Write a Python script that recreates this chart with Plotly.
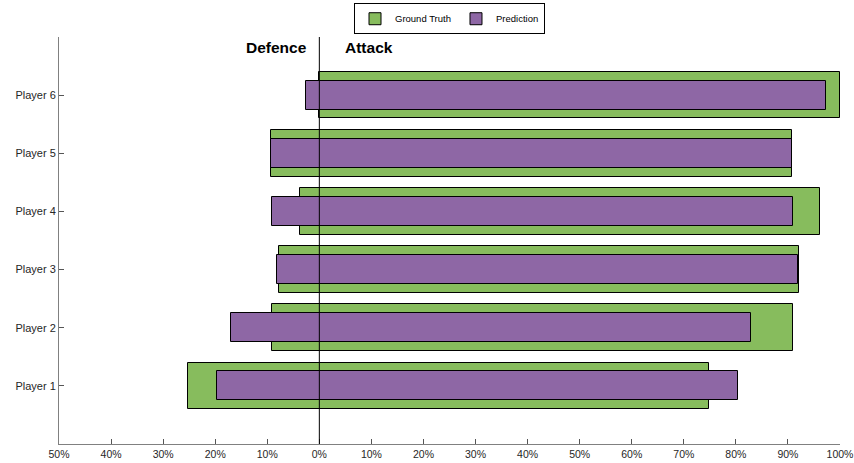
import plotly.graph_objects as go

players = ["Player 1", "Player 2", "Player 3", "Player 4", "Player 5", "Player 6"]
gt_defence = [25.2, 9.0, 7.7, 3.8, 9.3, 0.0]
gt_attack = [74.8, 91.0, 92.2, 96.2, 90.7, 100.0]
pred_defence = [19.6, 17.0, 8.1, 9.1, 9.2, 2.6]
pred_attack = [80.5, 83.0, 92.0, 90.9, 90.8, 97.4]
tick_vals = list(range(-50, 101, 10))
tick_text = [f"{abs(v)}%" for v in tick_vals]

ypos = list(range(1, len(players) + 1))

fig = go.Figure()
fig.add_trace(go.Bar(
    y=ypos, x=[d + a for d, a in zip(gt_defence, gt_attack)],
    base=[-d for d in gt_defence], orientation="h", width=0.8,
    name="Ground Truth", marker=dict(color="#87bc5d", line=dict(color="black", width=1)),
))
fig.add_trace(go.Bar(
    y=ypos, x=[d + a for d, a in zip(pred_defence, pred_attack)],
    base=[-d for d in pred_defence], orientation="h", width=0.5,
    name="Prediction", marker=dict(color="#8e67a5", line=dict(color="black", width=1)),
))

fig.add_shape(type="line", x0=0, x1=0, y0=0, y1=1, xref="x", yref="paper",
              line=dict(color="black", width=1), layer="above")

fig.add_annotation(x=0, y=0.973, xref="x", yref="paper", text="<b>Defence</b>",
                   showarrow=False, xanchor="right", yanchor="middle", xshift=-10,
                   font=dict(family="Liberation Sans", size=15.5, color="black"))
fig.add_annotation(x=0, y=0.973, xref="x", yref="paper", text="<b>Attack</b>",
                   showarrow=False, xanchor="left", yanchor="middle", xshift=24,
                   font=dict(family="Liberation Sans", size=15.5, color="black"))

fig.update_layout(
    width=854, height=463, barmode="overlay",
    margin=dict(l=59, r=14, t=37, b=19, autoexpand=False),
    plot_bgcolor="white", paper_bgcolor="white",
    font=dict(family="Liberation Sans", size=11, color="#262626"),
    legend=dict(orientation="h", x=0.5, xanchor="center", y=1.083, yanchor="top",
                bordercolor="black", borderwidth=1, font=dict(size=9.5, color="black"),
                itemwidth=30, tracegroupgap=0),
    xaxis=dict(range=[-50, 100], tickvals=tick_vals, ticktext=tick_text,
               tickfont=dict(size=10.5),
               showline=True, linecolor="#808080", linewidth=1, ticks="inside",
               ticklen=5, tickcolor="#555555", showgrid=False, zeroline=False),
    yaxis=dict(range=[0, 7], tickvals=ypos, ticktext=players,
               showline=True, linecolor="#808080", linewidth=1, ticks="inside",
               ticklen=5, tickcolor="#555555", showgrid=False, zeroline=False),
    bargap=0,
)

fig.write_html("out.html")
